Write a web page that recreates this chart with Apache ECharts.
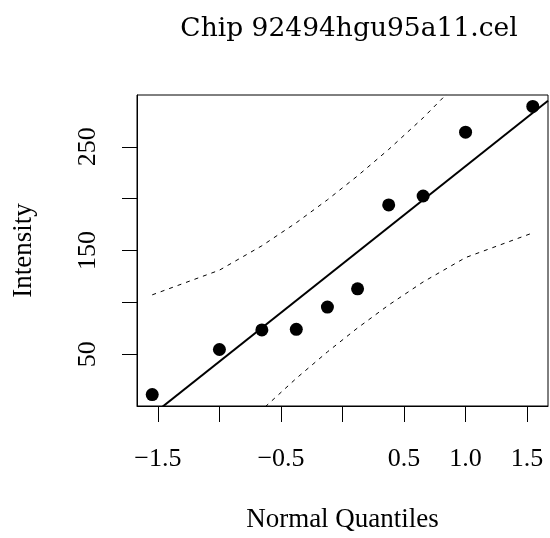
<!DOCTYPE html>
<html>
<head>
<meta charset="utf-8">
<script src="https://cdn.jsdelivr.net/npm/echarts@6/dist/echarts.min.js"></script>
<style>
  html, body { margin: 0; padding: 0; background: #ffffff; }
  #chart { width: 550px; height: 538px; }
</style>
</head>
<body>
<div id="chart"></div>
<script>
// Normal QQ plot of probe intensities for one chip
const chipName = 'Chip 92494hgu95a11.cel';
const xTitle = 'Normal Quantiles';
const yTitle = 'Intensity';

// theoretical normal quantiles, Blom positions (i - 3/8) / (n + 1/4), n = 10
const quantiles = [-1.5466, -1.0003, -0.6554, -0.3755, -0.1226, 0.1226, 0.3755, 0.6554, 1.0003, 1.5466];
// observed intensities, sorted
const intensity = [11.0, 54.5, 73.4, 74.0, 95.4, 113.0, 194.0, 202.6, 264.1, 289.0];

// ticks and the labels that are printed
const xTicks = [-1.5, -1.0, -0.5, 0.0, 0.5, 1.0, 1.5];
const xTickLabels = [-1.5, -0.5, 0.5, 1.0, 1.5];
const yTicks = [50, 100, 150, 200, 250];
const yTickLabels = [50, 150, 250];
const yRange = [0, 300];

// reference line: mean + sd * z
const n = intensity.length;
const mean = intensity.reduce((s, v) => s + v, 0) / n;
const sd = Math.sqrt(intensity.reduce((s, v) => s + (v - mean) * (v - mean), 0) / (n - 1));

// x extent: data range padded by 4% on each side
const zSpan = quantiles[n - 1] - quantiles[0];
const xMin = quantiles[0] - 0.04 * zSpan;
const xMax = quantiles[n - 1] + 0.04 * zSpan;

// pointwise 95% confidence envelope around the line
const dnorm = z => Math.exp(-z * z / 2) / Math.sqrt(2 * Math.PI);
const upper = [], lower = [];
quantiles.forEach((z, i) => {
  const p = (i + 1 - 0.375) / (n + 0.25);
  const se = (sd / dnorm(z)) * Math.sqrt(p * (1 - p) / n);
  const fit = mean + sd * z;
  upper.push([z, fit + 1.96 * se]);
  lower.push([z, fit - 1.96 * se]);
});

const fmt = v => {
  const s = Number(v).toFixed(1);
  return s.replace('-', '\u2212');
};

const serif = '"Liberation Serif", "Times New Roman", serif';

const chart = echarts.init(document.getElementById('chart'), null, { renderer: 'canvas' });
chart.setOption({
  animation: false,
  backgroundColor: '#ffffff',
  title: {
    text: chipName,
    left: 344,
    top: 11,
    textAlign: 'center',
    textStyle: {
      fontFamily: '"DejaVu Serif", serif',
      fontWeight: 'normal',
      fontSize: 26.5,
      color: '#000000'
    }
  },
  grid: {
    left: 137,
    top: 95,
    width: 411,
    height: 312,
    show: true,
    borderColor: '#000000',
    borderWidth: 1,
    containLabel: false
  },
  xAxis: {
    type: 'value',
    min: xMin,
    max: xMax,
    name: xTitle,
    nameLocation: 'middle',
    nameGap: 100,
    nameTextStyle: { fontFamily: serif, fontSize: 27, color: '#000000' },
    axisLine: { show: true, onZero: false, lineStyle: { color: '#000000', width: 1 } },
    axisTick: { show: true, length: 16, customValues: xTicks, lineStyle: { color: '#000000', width: 1 } },
    axisLabel: {
      show: true,
      customValues: xTickLabels,
      margin: 40,
      formatter: fmt,
      fontFamily: serif,
      fontSize: 26,
      color: '#000000'
    },
    splitLine: { show: false }
  },
  yAxis: {
    type: 'value',
    min: yRange[0],
    max: yRange[1],
    name: yTitle,
    nameLocation: 'middle',
    nameGap: 100,
    nameRotate: 90,
    nameTextStyle: { fontFamily: serif, fontSize: 27, color: '#000000' },
    axisLine: { show: true, onZero: false, lineStyle: { color: '#000000', width: 1 } },
    axisTick: { show: true, length: 15, customValues: yTicks, lineStyle: { color: '#000000', width: 1 } },
    axisLabel: {
      show: true,
      customValues: yTickLabels,
      rotate: 90,
      margin: 36,
      fontFamily: serif,
      fontSize: 26,
      color: '#000000'
    },
    splitLine: { show: false }
  },
  series: [
    {
      name: 'line',
      type: 'line',
      data: [[xMin, mean + sd * xMin], [xMax, mean + sd * xMax]],
      showSymbol: false,
      clip: true,
      lineStyle: { color: '#000000', width: 2 },
      z: 2
    },
    {
      name: 'upper',
      type: 'line',
      data: upper,
      showSymbol: false,
      clip: true,
      lineStyle: { color: '#000000', width: 1, type: [4, 5] },
      z: 2
    },
    {
      name: 'lower',
      type: 'line',
      data: lower,
      showSymbol: false,
      clip: true,
      lineStyle: { color: '#000000', width: 1, type: [4, 5] },
      z: 2
    },
    {
      name: 'points',
      type: 'scatter',
      data: quantiles.map((z, i) => [z, intensity[i]]),
      symbol: 'circle',
      symbolSize: 13,
      itemStyle: { color: '#000000', opacity: 1 },
      clip: false,
      z: 3
    }
  ]
});
</script>
</body>
</html>
